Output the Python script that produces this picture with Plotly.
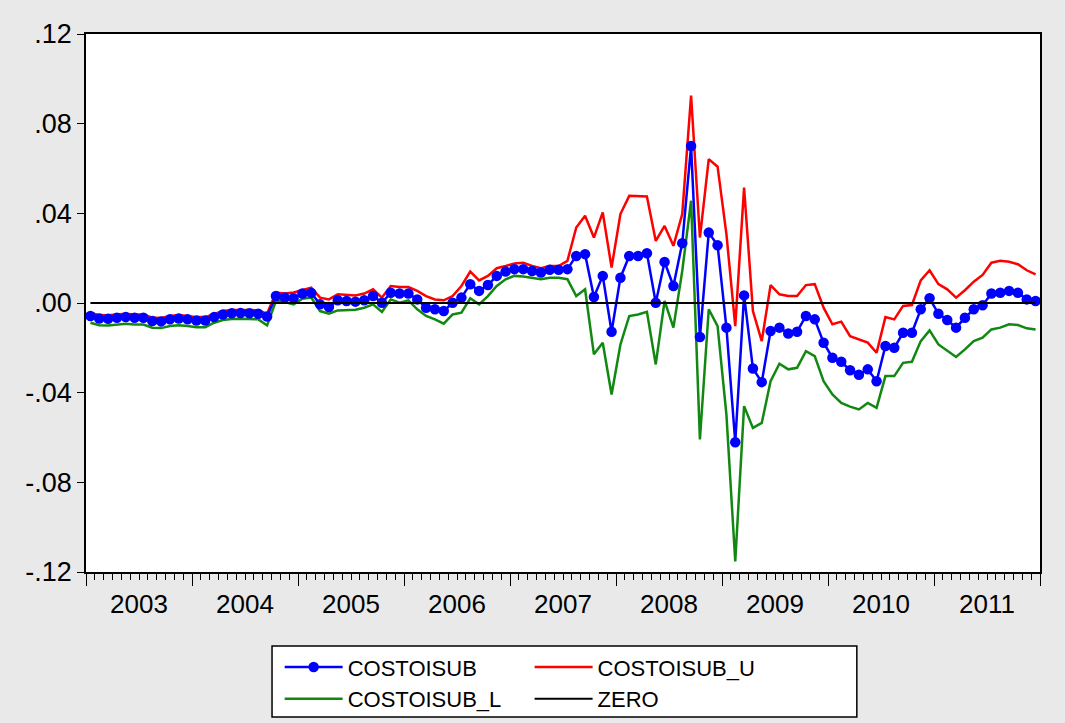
import plotly.graph_objects as go

# Monthly observations, 2003M01 .. 2011M12
start_year = 2003
n_months = 108

costoisub = [
    -0.0058, -0.0069, -0.0070, -0.0066, -0.0063, -0.0066, -0.0066, -0.0080, -0.0082, -0.0073, -0.0069, -0.0073,
    -0.0078, -0.0078, -0.0063, -0.0051, -0.0046, -0.0045, -0.0046, -0.0048, -0.0060, 0.0031, 0.0024, 0.0021,
    0.0042, 0.0045, -0.0006, -0.0018, 0.0012, 0.0009, 0.0006, 0.0012, 0.0031, 0.0001, 0.0046, 0.0042,
    0.0042, 0.0016, -0.0021, -0.0028, -0.0036, 0.0001, 0.0024, 0.0084, 0.0054, 0.0080, 0.0121, 0.0140,
    0.0151, 0.0151, 0.0143, 0.0136, 0.0148, 0.0148, 0.0151, 0.0210, 0.0218, 0.0027, 0.0121, -0.0128,
    0.0113, 0.0210, 0.0210, 0.0222, 0.0001, 0.0183, 0.0076, 0.0267, 0.0700, -0.0152, 0.0314, 0.0258,
    -0.0110, -0.0621, 0.0034, -0.0292, -0.0353, -0.0125, -0.0110, -0.0136, -0.0128, -0.0058, -0.0073, -0.0177,
    -0.0244, -0.0262, -0.0300, -0.0320, -0.0296, -0.0349, -0.0192, -0.0200, -0.0133, -0.0133, -0.0028, 0.0021,
    -0.0048, -0.0076, -0.0110, -0.0066, -0.0028, -0.0010, 0.0042, 0.0046, 0.0054, 0.0046, 0.0016, 0.0009,
]

costoisub_u = [
    -0.0043, -0.0054, -0.0055, -0.0051, -0.0048, -0.0051, -0.0051, -0.0065, -0.0067, -0.0058, -0.0054, -0.0058,
    -0.0063, -0.0063, -0.0048, -0.0036, -0.0031, -0.0030, -0.0031, -0.0033, -0.0048, 0.0046, 0.0042, 0.0047,
    0.0057, 0.0068, 0.0024, 0.0016, 0.0039, 0.0036, 0.0034, 0.0042, 0.0061, 0.0024, 0.0076, 0.0071,
    0.0071, 0.0054, 0.0031, 0.0016, 0.0012, 0.0031, 0.0076, 0.0140, 0.0101, 0.0121, 0.0155, 0.0165,
    0.0176, 0.0180, 0.0165, 0.0155, 0.0165, 0.0165, 0.0188, 0.0337, 0.0389, 0.0292, 0.0404, 0.0158,
    0.0397, 0.0478, 0.0478, 0.0475, 0.0277, 0.0344, 0.0255, 0.0397, 0.0925, 0.0292, 0.0642, 0.0608,
    0.0307, -0.0103, 0.0515, -0.0036, -0.0170, 0.0080, 0.0039, 0.0031, 0.0031, 0.0080, 0.0084, -0.0021,
    -0.0095, -0.0083, -0.0148, -0.0162, -0.0177, -0.0222, -0.0063, -0.0073, -0.0013, -0.0009, 0.0101, 0.0146,
    0.0084, 0.0061, 0.0024, 0.0057, 0.0095, 0.0125, 0.0180, 0.0188, 0.0184, 0.0173, 0.0146, 0.0128,
]

costoisub_l = [
    -0.0088, -0.0099, -0.0100, -0.0096, -0.0093, -0.0096, -0.0096, -0.0110, -0.0112, -0.0103, -0.0099, -0.0103,
    -0.0108, -0.0108, -0.0088, -0.0076, -0.0071, -0.0070, -0.0071, -0.0073, -0.0100, 0.0009, 0.0004, -0.0006,
    0.0019, 0.0024, -0.0036, -0.0048, -0.0033, -0.0030, -0.0030, -0.0021, -0.0006, -0.0040, 0.0016, 0.0001,
    0.0012, -0.0028, -0.0058, -0.0073, -0.0092, -0.0051, -0.0043, 0.0021, -0.0006, 0.0031, 0.0076, 0.0106,
    0.0121, 0.0118, 0.0113, 0.0106, 0.0113, 0.0113, 0.0106, 0.0031, 0.0061, -0.0229, -0.0177, -0.0408,
    -0.0185, -0.0058, -0.0051, -0.0039, -0.0274, 0.0009, -0.0110, 0.0143, 0.0456, -0.0609, -0.0028, -0.0103,
    -0.0498, -0.1153, -0.0460, -0.0557, -0.0535, -0.0349, -0.0271, -0.0296, -0.0289, -0.0215, -0.0237, -0.0349,
    -0.0408, -0.0446, -0.0462, -0.0475, -0.0446, -0.0468, -0.0326, -0.0326, -0.0267, -0.0262, -0.0170, -0.0122,
    -0.0185, -0.0215, -0.0241, -0.0207, -0.0170, -0.0155, -0.0118, -0.0110, -0.0095, -0.0098, -0.0113, -0.0118,
]

zero = [0.0] * n_months

years = list(range(2003, 2012))
y_tickvals = [-0.12, -0.08, -0.04, 0.0, 0.04, 0.08, 0.12]
y_ticktext = ["-.12", "-.08", "-.04", ".00", ".04", ".08", ".12"]

# observation position: middle of each month on a year scale
x = [start_year + (i + 0.5) / 12 for i in range(n_months)]

FONT = "Arial, 'Liberation Sans', sans-serif"

fig = go.Figure()
fig.add_trace(go.Scatter(x=x, y=costoisub_u, name="COSTOISUB_U", mode="lines",
                         line=dict(color="#ff0000", width=2.5), legend="legend2", legendrank=1))
fig.add_trace(go.Scatter(x=x, y=costoisub_l, name="COSTOISUB_L", mode="lines",
                         line=dict(color="#118811", width=2.5), legend="legend", legendrank=2))
fig.add_trace(go.Scatter(x=x, y=costoisub, name="COSTOISUB", mode="lines+markers",
                         line=dict(color="#0000ff", width=2.5),
                         marker=dict(color="#0000ff", size=10.5, symbol="circle"),
                         legend="legend", legendrank=1))
fig.add_trace(go.Scatter(x=x, y=zero, name="ZERO", mode="lines",
                         line=dict(color="#000000", width=2), legend="legend2", legendrank=2))

for yr in years:
    fig.add_annotation(x=yr + 0.5, y=-0.06, xref="x", yref="paper", text=str(yr),
                       showarrow=False, yanchor="middle",
                       font=dict(family=FONT, size=26, color="#000000"))

# legend frame
fig.add_shape(type="rect", xref="paper", yref="paper", x0=0.195, x1=0.808, y0=-0.2695, y1=-0.1375,
              fillcolor="#ffffff", line=dict(color="#000000", width=1.5), layer="below")

LEGFONT = dict(family=FONT, size=22, color="#000000")

fig.update_layout(
    width=1065, height=723,
    margin=dict(l=86, r=25, t=34, b=151, autoexpand=False),
    paper_bgcolor="#e9e9e9",
    plot_bgcolor="#ffffff",
    font=dict(family=FONT, size=22, color="#000000"),
    showlegend=True,
    legend=dict(x=0.203, y=-0.138, xanchor="left", yanchor="top", orientation="v",
                bgcolor="rgba(0,0,0,0)", borderwidth=0, itemwidth=58, tracegroupgap=0,
                font=LEGFONT),
    legend2=dict(x=0.465, y=-0.138, xanchor="left", yanchor="top", orientation="v",
                 bgcolor="rgba(0,0,0,0)", borderwidth=0, itemwidth=58, tracegroupgap=0,
                 font=LEGFONT),
    xaxis=dict(range=[2003, 2012], tickmode="array", tickvals=list(range(2003, 2013)),
               ticktext=[""] * 10, ticks="outside", ticklen=12, tickwidth=1.2, tickcolor="#000000",
               minor=dict(dtick=1 / 12, tick0=2003, ticks="outside", ticklen=6, tickwidth=1,
                          tickcolor="#000000", showgrid=False),
               showgrid=False, zeroline=False, showline=True, linecolor="#000000", linewidth=1.5,
               mirror=True, fixedrange=True),
    yaxis=dict(range=[-0.12, 0.12], tickmode="array", tickvals=y_tickvals, ticktext=y_ticktext,
               ticks="outside", ticklen=7, tickwidth=1.2, tickcolor="#000000",
               tickfont=dict(family=FONT, size=27, color="#000000"),
               showgrid=False, zeroline=False, showline=True, linecolor="#000000", linewidth=1.5,
               mirror=True, fixedrange=True),
)

fig.write_html("out.html")
